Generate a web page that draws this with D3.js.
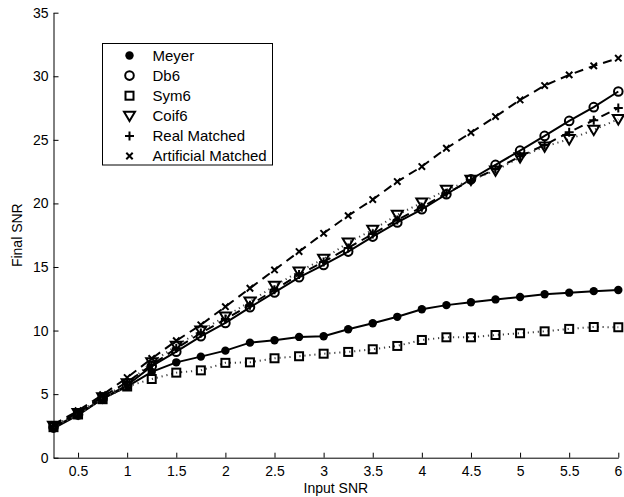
<!DOCTYPE html>
<html>
<head>
<meta charset="utf-8">
<script src="https://cdn.jsdelivr.net/npm/d3@7"></script>
<style>
  html, body { margin: 0; padding: 0; background: #fff; }
  text { font-family: "Liberation Sans", Arial, Helvetica, sans-serif; }
</style>
</head>
<body>
<div id="chart"></div>
<script>
const inputSnr = [0.25, 0.5, 0.75, 1, 1.25, 1.5, 1.75, 2, 2.25, 2.5, 2.75, 3,
  3.25, 3.5, 3.75, 4, 4.25, 4.5, 4.75, 5, 5.25, 5.5, 5.75, 6];

const meyer = [2.3, 3.35, 4.65, 5.6, 6.75, 7.5, 7.95, 8.42, 9.05, 9.24, 9.5, 9.55,
  10.1, 10.57, 11.08, 11.68, 12.0, 12.23, 12.45, 12.64, 12.86, 12.98, 13.1, 13.19];
const db6 = [2.4, 3.4, 4.65, 5.7, 7.2, 8.34, 9.55, 10.6, 11.83, 13.0, 14.19, 15.16,
  16.21, 17.39, 18.5, 19.54, 20.72, 21.9, 23.03, 24.15, 25.31, 26.49, 27.57, 28.8];
const sym6 = [2.4, 3.4, 4.6, 5.6, 6.19, 6.69, 6.87, 7.46, 7.5, 7.82, 7.98, 8.18,
  8.32, 8.53, 8.79, 9.26, 9.47, 9.47, 9.65, 9.79, 9.94, 10.13, 10.28, 10.26];
const coif6 = [2.5, 3.5, 4.75, 5.85, 7.5, 8.8, 10.0, 11.1, 12.27, 13.51, 14.64, 15.63,
  16.92, 17.92, 19.1, 20.06, 21.06, 21.85, 22.58, 23.63, 24.47, 25.05, 25.78, 26.62];
const realMatched = [2.5, 3.55, 4.8, 5.95, 7.3, 8.6, 9.8, 10.9, 12.0, 13.2, 14.4, 15.4,
  16.5, 17.6, 18.7, 19.7, 20.8, 21.8, 22.7, 23.7, 24.6, 25.6, 26.55, 27.5];
const artificialMatched = [2.6, 3.7, 4.95, 6.3, 7.8, 9.2, 10.45, 11.88, 13.33, 14.77, 16.21, 17.65,
  19.04, 20.3, 21.72, 22.9, 24.34, 25.57, 26.83, 28.14, 29.27, 30.11, 30.82, 31.42];

const xTicks = [0.5, 1, 1.5, 2, 2.5, 3, 3.5, 4, 4.5, 5, 5.5, 6];
const yTicks = [0, 5, 10, 15, 20, 25, 30, 35];

const series = [
  { name: 'Meyer', values: meyer, marker: 'dot', dash: null },
  { name: 'Db6', values: db6, marker: 'circle', dash: null },
  { name: 'Sym6', values: sym6, marker: 'square', dash: 'dot' },
  { name: 'Coif6', values: coif6, marker: 'triangle', dash: 'dot' },
  { name: 'Real Matched', values: realMatched, marker: 'plus', dash: 'dash' },
  { name: 'Artificial Matched', values: artificialMatched, marker: 'cross', dash: 'dash' }
];

const width = 624, height = 497;
const plotLeft = 53.5, plotRight = 618.3, plotTop = 12.7, plotBottom = 457.7;
const fontSize = '14px';

const svg = d3.select('#chart').append('svg')
  .attr('width', width)
  .attr('height', height);

const x = d3.scaleLinear().domain([0.25, 6]).range([plotLeft, plotRight]);
const y = d3.scaleLinear().domain([0, 35]).range([plotBottom, plotTop]);

// axes (ticks point into the plot, matlab style)
const xAxis = svg.append('g')
  .attr('transform', `translate(0,${plotBottom})`)
  .call(d3.axisBottom(x).tickValues(xTicks).tickFormat(d3.format('~g'))
    .tickSizeInner(-5).tickSizeOuter(0).tickPadding(8));
const yAxis = svg.append('g')
  .attr('transform', `translate(${plotLeft},0)`)
  .call(d3.axisLeft(y).tickValues(yTicks).tickFormat(d3.format('~g'))
    .tickSizeInner(-5).tickSizeOuter(0).tickPadding(5));

[xAxis, yAxis].forEach(a => {
  a.select('.domain').attr('stroke', '#000').attr('stroke-width', 1);
  a.selectAll('.tick line').attr('stroke', '#000');
  a.selectAll('.tick text').attr('fill', '#000').style('font-size', fontSize)
    .style('font-family', '"Liberation Sans", Arial, sans-serif');
});
// last label sits at the window edge, keep it inside
xAxis.selectAll('.tick text').filter(d => d === 6).attr('text-anchor', 'end').attr('dx', '0.25em');

svg.append('text')
  .attr('x', (plotLeft + plotRight) / 2)
  .attr('y', 493)
  .attr('text-anchor', 'middle')
  .style('font-size', fontSize)
  .text('Input SNR');

svg.append('text')
  .attr('transform', `translate(22,${(plotTop + plotBottom) / 2}) rotate(-90)`)
  .attr('text-anchor', 'middle')
  .style('font-size', fontSize)
  .text('Final SNR');

const dashes = { dash: '9,6', dot: '1.2,3.8' };

const line = d3.line()
  .x((d, i) => x(inputSnr[i]))
  .y(d => y(d));

function drawMarker(g, type, cx, cy) {
  if (type === 'dot') {
    g.append('circle').attr('cx', cx).attr('cy', cy).attr('r', 4.2).attr('fill', '#000');
  } else if (type === 'circle') {
    g.append('circle').attr('cx', cx).attr('cy', cy).attr('r', 4.3)
      .attr('fill', 'none').attr('stroke', '#000').attr('stroke-width', 2);
  } else if (type === 'square') {
    g.append('rect').attr('x', cx - 4).attr('y', cy - 4).attr('width', 8).attr('height', 8)
      .attr('fill', 'none').attr('stroke', '#000').attr('stroke-width', 2);
  } else if (type === 'triangle') {
    const s = 5.5;
    g.append('path')
      .attr('d', `M${cx - s},${cy - s * 0.75}L${cx + s},${cy - s * 0.75}L${cx},${cy + s * 0.95}Z`)
      .attr('fill', 'none').attr('stroke', '#000').attr('stroke-width', 2);
  } else if (type === 'plus') {
    const s = 4.5;
    g.append('path')
      .attr('d', `M${cx - s},${cy}L${cx + s},${cy}M${cx},${cy - s}L${cx},${cy + s}`)
      .attr('stroke', '#000').attr('stroke-width', 2);
  } else if (type === 'cross') {
    const s = 3.2;
    g.append('path')
      .attr('d', `M${cx - s},${cy - s}L${cx + s},${cy + s}M${cx - s},${cy + s}L${cx + s},${cy - s}`)
      .attr('stroke', '#000').attr('stroke-width', 2);
  }
}

series.forEach(s => {
  const g = svg.append('g');
  g.append('path')
    .datum(s.values)
    .attr('d', line)
    .attr('fill', 'none')
    .attr('stroke', s.dash === 'dot' ? '#444' : '#000')
    .attr('stroke-width', 2)
    .attr('stroke-dasharray', s.dash ? dashes[s.dash] : null);
  s.values.forEach((v, i) => drawMarker(g, s.marker, x(inputSnr[i]), y(v)));
});

// legend: markers only, no line samples
const legend = svg.append('g');
legend.append('rect')
  .attr('x', 102.5).attr('y', 43.5)
  .attr('width', 170).attr('height', 121.5)
  .attr('fill', '#fff').attr('stroke', '#000').attr('stroke-width', 1);

series.forEach((s, i) => {
  const ry = 55.5 + i * 20.1;
  drawMarker(legend, s.marker, 129.5, ry);
  legend.append('text')
    .attr('x', 152.5)
    .attr('y', ry)
    .attr('dy', '0.35em')
    .style('font-size', '15px')
    .text(s.name);
});
</script>
</body>
</html>
